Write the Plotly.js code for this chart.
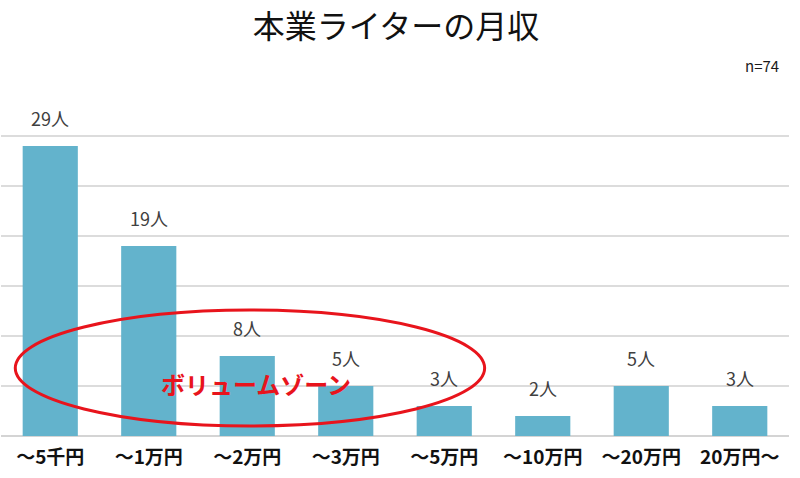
<!DOCTYPE html>
<html>
<head>
<meta charset="utf-8">
<script src="https://cdn.plot.ly/plotly-3.0.1.min.js"></script>
<style>
	html, body {margin:0; padding:0; background:#fff;}
	#myDiv {width:800px; height:478px;}
</style>
</head>
<body>
<div id="myDiv"></div>
<script>
var categories = ['～5千円', '～1万円', '～2万円', '～3万円', '～5万円', '～10万円', '～20万円', '20万円～'];
var counts = [29, 19, 8, 5, 3, 2, 5, 3];
var unit = '人';
var sampleNote = 'n=74';
var zoneLabel = 'ボリュームゾーン';

var jpFont = '"Noto Sans CJK JP", "Noto Sans", sans-serif';

// value labels sit a little above each bar
var labels = [];
for (var i in categories){
	labels.push({
		x: categories[i],
		y: counts[i],
		xref: 'x',
		yref: 'y',
		text: counts[i] + unit,
		showarrow: false,
		yanchor: 'bottom',
		yshift: 13,
		font: {family: jpFont, size: 18, color: '#404040'}
	});
};

labels.push({
	x: 1, y: 1, xref: 'paper', yref: 'paper',
	xanchor: 'right', yanchor: 'middle',
	xshift: -8, yshift: 21,
	text: sampleNote, showarrow: false,
	font: {family: jpFont, size: 15, color: '#1a1a1a'}
});

labels.push({
	x: 2.09, y: 5.3, xref: 'x', yref: 'y',
	xanchor: 'center', yanchor: 'middle',
	text: '<b>' + zoneLabel + '</b>', showarrow: false,
	font: {family: jpFont, size: 24, color: '#e8141c'}
});

var data = [{
	x: categories,
	y: counts,
	type: 'bar',
	marker: {color: '#63b3cc'},
	hoverinfo: 'x+y'
}];

var layout = {
	title: {
		text: '本業ライターの月収',
		font: {family: jpFont, size: 32, color: '#111'},
		x: 0.495, xanchor: 'center',
		y: 0.944, yanchor: 'middle'
	},
	width: 800,
	height: 478,
	paper_bgcolor: '#fff',
	plot_bgcolor: '#fff',
	showlegend: false,
	bargap: 0.44,
	margin: {l: 1, r: 11, t: 86, b: 42, pad: 0},
	xaxis: {
		type: 'category',
		showgrid: false,
		showline: false,
		ticks: '',
		ticklabelstandoff: 8,
		tickfont: {family: jpFont, size: 19, color: '#111', weight: 'bold'},
		fixedrange: true
	},
	yaxis: {
		range: [0, 35],
		dtick: 5,
		showticklabels: false,
		showgrid: true,
		gridcolor: '#dcdcdc',
		gridwidth: 1.5,
		zeroline: true,
		zerolinecolor: '#d4d4d4',
		zerolinewidth: 1.5,
		fixedrange: true
	},
	annotations: labels,
	shapes: [{
		type: 'circle',
		xref: 'x', yref: 'y',
		x0: -0.355, x1: 4.41,
		y0: 1.0, y1: 12.6,
		line: {color: '#e8141c', width: 3}
	}]
};

Plotly.newPlot('myDiv', data, layout, {displayModeBar: false, responsive: false});
</script>
</body>
</html>
